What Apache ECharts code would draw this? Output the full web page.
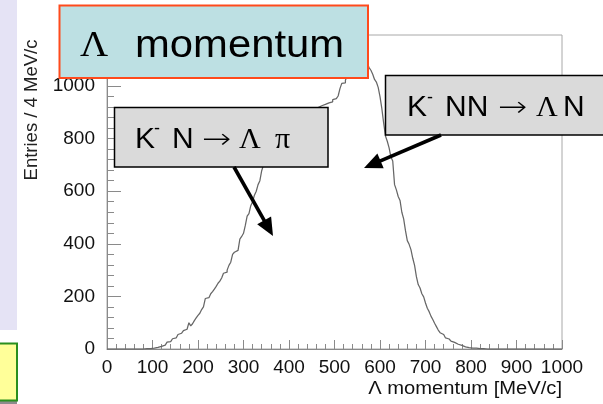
<!DOCTYPE html>
<html>
<head>
<meta charset="utf-8">
<script src="https://cdn.jsdelivr.net/npm/echarts@6/dist/echarts.min.js"></script>
<style>
  html, body { margin: 0; padding: 0; background: #ffffff; }
  #chart { width: 603px; height: 404px; }
</style>
</head>
<body>
<div id="chart"></div>
<script>
// Lambda momentum spectrum, 4 MeV/c bins from 0 to 1000 MeV/c
const binWidth = 4;
const xMin = 0;
const xMax = 1000;
const counts = [
  // 0 - 96
  0, 0, 0, 0, 0, 0, 0, 0, 0, 0, 0, 0, 0, 0, 0, 0, 0, 0, 0, 0, 0, 1, 0, 1,
  // 96 - 196
  1, 3, 2, 6, 8, 10, 14, 15, 20, 26, 28, 33, 39, 42, 45, 55, 60, 62, 70, 75, 78, 100, 88, 96, 108,
  // 196 - 296
  118, 128, 136, 150, 160, 192, 195, 200, 210, 218, 228, 238, 250, 258, 270, 288, 292, 300, 318, 330, 360, 368, 375, 380, 418,
  // 296 - 396
  428, 440, 470, 505, 515, 545, 560, 585, 600, 625, 640, 678, 700, 712, 730, 745, 758, 770, 785, 795, 808, 815, 822, 832, 840,
  // 396 - 496
  848, 852, 860, 866, 870, 878, 880, 886, 892, 895, 900, 902, 906, 910, 912, 915, 918, 920, 925, 928, 930, 932, 936, 930, 940,
  // 496 - 596
  948, 952, 955, 962, 990, 1010, 1012, 1022, 1040, 1058, 1075, 1090, 1102, 1115, 1125, 1132, 1128, 1120, 1105, 1085, 1070, 1060, 1045, 1025, 1015,
  // 596 - 696
  995, 960, 915, 860, 810, 790, 765, 730, 715, 625, 605, 580, 565, 520, 495, 450, 412, 398, 378, 345, 318, 275, 245, 232, 210,
  // 696 - 796
  198, 175, 155, 142, 125, 112, 98, 85, 72, 62, 55, 50, 42, 38, 34, 30, 25, 22, 18, 16, 14, 10, 8, 6, 5,
  // 796 - 896
  4, 3, 2, 3, 2, 1, 2, 1, 1, 0, 1, 0, 1, 0, 0, 0, 0, 0, 0, 0, 0, 0, 0, 0, 0,
  // 896 - 1000
  0, 0, 0, 0, 0, 0, 0, 0, 0, 0, 0, 0, 0, 0, 0, 0, 0, 0, 0, 0, 0, 0, 0, 0, 0, 0
];
const yTicks = [0, 200, 400, 600, 800, 1000];
const xTicks = [0, 100, 200, 300, 400, 500, 600, 700, 800, 900, 1000];

const xTitle = 'Λ momentum [MeV/c]';
const yTitle = 'Entries / 4 MeV/c';

// step outline: every bin's low edge with its content, closed at the upper edge
const histData = counts.map((c, i) => [xMin + i * binWidth, c]);
histData.push([xMin + counts.length * binWidth, counts[counts.length - 1]]);

const SANS = '"Liberation Sans", Arial, Helvetica, sans-serif';
const SERIF = '"Liberation Serif", "Times New Roman", serif';
const ARROWFONT = '"DejaVu Sans", sans-serif';

function txt(str, x, baseline, size, family, extra, weight) {
  // place text by its baseline (canvas "middle" sits ~0.31em above it)
  return Object.assign({
    type: 'text',
    x: x,
    y: baseline - 0.31 * size,
    z: 120,
    style: {
      text: str,
      fontSize: size,
      fontFamily: family,
      fontWeight: weight || 'normal',
      fill: '#000',
      textAlign: 'left',
      align: 'left',
      textVerticalAlign: 'middle',
      verticalAlign: 'middle'
    }
  }, extra || {});
}

function arrow(x1, y1, x2, y2) {
  const dx = x2 - x1, dy = y2 - y1;
  const len = Math.sqrt(dx * dx + dy * dy);
  const ux = dx / len, uy = dy / len;
  const headLen = 18, halfW = 8;
  const bx = x2 - ux * headLen, by = y2 - uy * headLen;
  return [
    {
      type: 'line', z: 118,
      shape: { x1: x1, y1: y1, x2: bx + ux * 2, y2: by + uy * 2 },
      style: { stroke: '#000', lineWidth: 3.6 }
    },
    {
      type: 'polygon', z: 118,
      shape: { points: [[x2, y2], [bx - uy * halfW, by + ux * halfW], [bx + uy * halfW, by - ux * halfW]] },
      style: { fill: '#000' }
    }
  ];
}

const chart = echarts.init(document.getElementById('chart'), null, { renderer: 'canvas' });

const axisColor = '#8a8a8a';

chart.setOption({
  animation: false,
  backgroundColor: '#ffffff',
  grid: {
    left: 107, right: 41, top: 35, bottom: 55,
    show: true,
    borderColor: '#a8a8a8',
    borderWidth: 1,
    backgroundColor: 'transparent',
    outerBoundsMode: 'none',
    containLabel: false
  },
  xAxis: {
    type: 'value',
    min: xTicks[0],
    max: xTicks[xTicks.length - 1],
    interval: xTicks[1] - xTicks[0],
    axisLine: { show: true, lineStyle: { color: axisColor, width: 1 } },
    axisTick: { show: true, inside: true, length: 9, lineStyle: { color: axisColor } },
    minorTick: { show: true, splitNumber: 5, length: 5, lineStyle: { color: axisColor } },
    splitLine: { show: false },
    minorSplitLine: { show: false },
    axisLabel: { fontSize: 19, fontFamily: SANS, color: '#111', margin: 9, formatter: v => String(v) }
  },
  yAxis: {
    type: 'value',
    min: yTicks[0],
    max: 1194,
    interval: yTicks[1] - yTicks[0],
    axisLine: { show: true, lineStyle: { color: axisColor, width: 1 } },
    axisTick: { show: true, inside: true, length: 14, lineStyle: { color: axisColor } },
    minorTick: { show: true, splitNumber: 5, length: 7, lineStyle: { color: axisColor } },
    splitLine: { show: false },
    minorSplitLine: { show: false },
    axisLabel: {
      fontSize: 19, fontFamily: SANS, color: '#111', margin: 12,
      showMaxLabel: false,
      formatter: v => (yTicks.indexOf(v) >= 0 ? String(v) : '')
    }
  },
  series: [{
    type: 'line',
    step: 'end',
    data: histData,
    showSymbol: false,
    symbol: 'none',
    lineStyle: { color: '#666666', width: 1.25 },
    z: 5
  }],
  graphic: [
    // side decorations
    { type: 'rect', z: 100, shape: { x: 0, y: 0, width: 17, height: 330 }, style: { fill: '#e5e3f5' } },
    { type: 'rect', z: 100, shape: { x: 0, y: 401, width: 17, height: 3 }, style: { fill: '#8c8c8c' } },
    { type: 'rect', z: 101, shape: { x: -3, y: 343.5, width: 20, height: 57 }, style: { fill: '#ffff99', stroke: '#2a8f1f', lineWidth: 2 } },

    // axis titles
    txt(xTitle, 562, 395, 18, SANS, {
      scaleX: 1.12,
      style: { text: xTitle, fontSize: 18, fontFamily: SANS, fill: '#111', textAlign: 'right', align: 'right', textVerticalAlign: 'middle', verticalAlign: 'middle' }
    }),
    {
      type: 'text', z: 120, x: 32, y: 110, rotation: Math.PI / 2,
      style: { text: yTitle, fontSize: 18.5, fontFamily: SANS, fill: '#222', textAlign: 'center', align: 'center', textVerticalAlign: 'middle', verticalAlign: 'middle' }
    },

    // title box
    { type: 'rect', z: 110, shape: { x: 59.5, y: 5.5, width: 308.5, height: 72.5 }, style: { fill: '#bde0e3', stroke: '#ff4a1c', lineWidth: 2 } },
    txt('Λ', 80, 58, 36, SERIF, { scaleX: 1.08 }),
    txt('momentum', 135, 58, 38, SANS, { scaleX: 1.1 }),

    // reaction label K- N -> Lambda pi
    { type: 'rect', z: 110, shape: { x: 114.5, y: 107.5, width: 213.5, height: 59.5 }, style: { fill: '#dadada', stroke: '#000', lineWidth: 1.5 } },
    txt('K', 135, 149, 30, SANS),
    txt('-', 154, 135, 18, SANS),
    txt('N', 172, 149, 30, SANS),
    txt('→', 202, 149, 28, ARROWFONT, { scaleX: 1.25 }, 200),
    txt('Λ', 239, 149, 30, SERIF),
    txt('π', 275, 149, 30, SERIF),

    // reaction label K- NN -> Lambda N
    { type: 'rect', z: 110, shape: { x: 385.5, y: 75.5, width: 222, height: 59.5 }, style: { fill: '#dadada', stroke: '#000', lineWidth: 1.5 } },
    txt('K', 407, 117, 30, SANS),
    txt('-', 427, 104, 18, SANS),
    txt('NN', 445, 117, 30, SANS),
    txt('→', 498, 117, 28, ARROWFONT, { scaleX: 1.25 }, 200),
    txt('Λ', 536, 117, 30, SERIF),
    txt('N', 563, 117, 30, SANS),

    // pointers
    ...arrow(234, 167, 273, 236),
    ...arrow(441, 135, 364, 168)
  ]
});
</script>
</body>
</html>
